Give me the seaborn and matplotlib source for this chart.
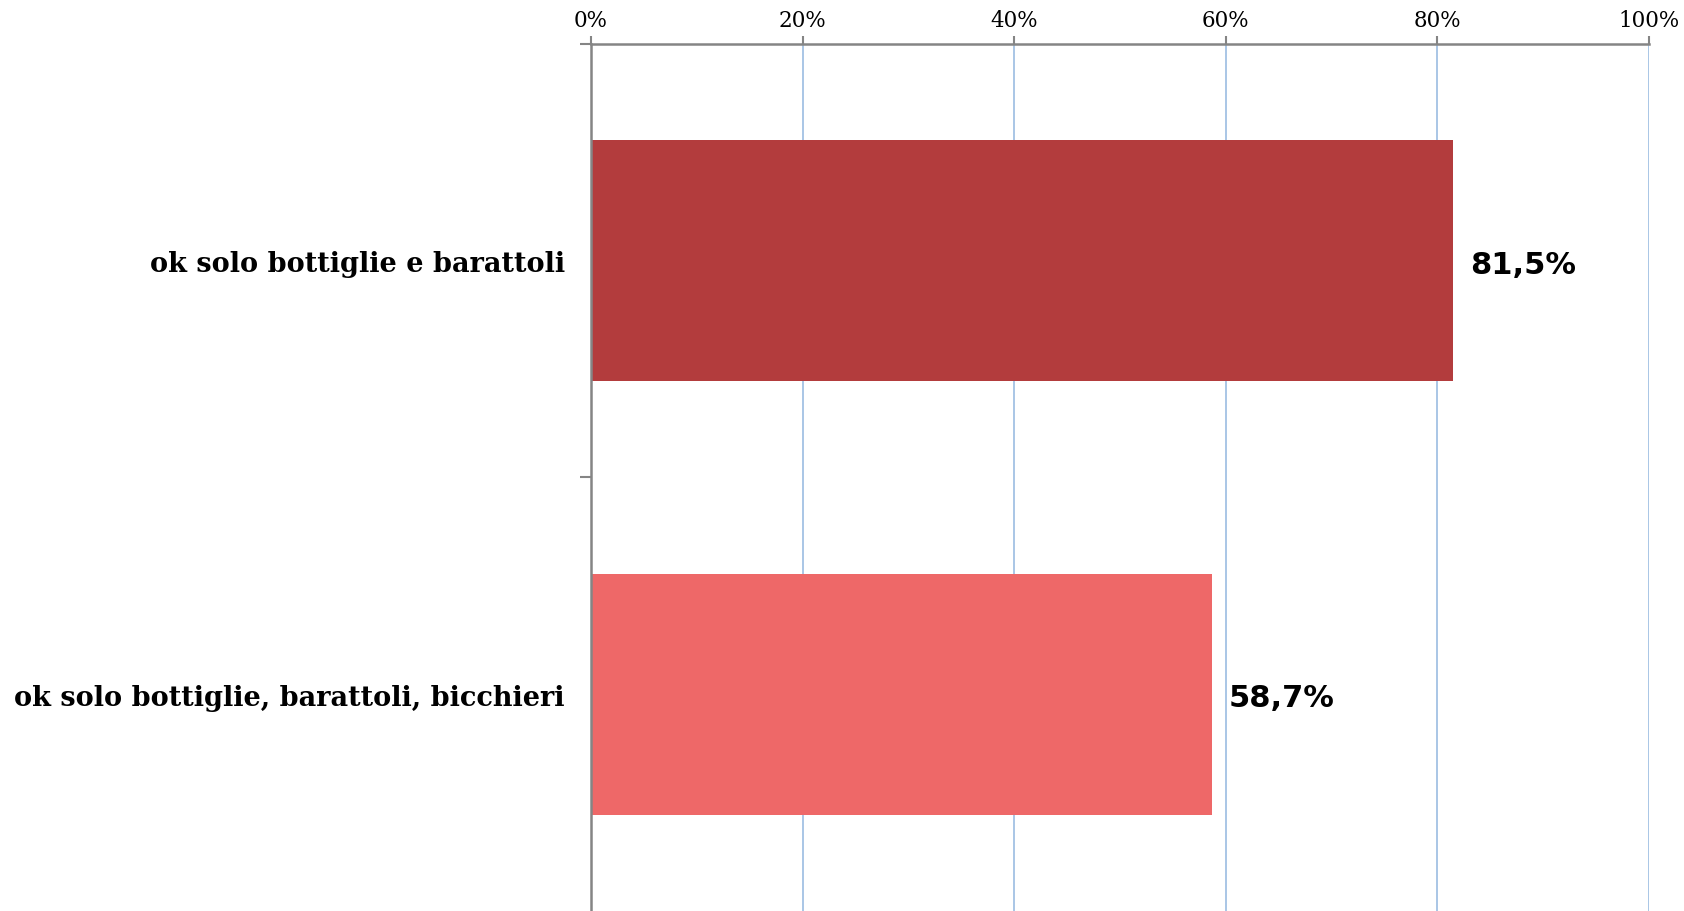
import matplotlib
matplotlib.use("Agg")
import matplotlib.pyplot as plt
import seaborn as sns
import pandas as pd
from matplotlib.ticker import FixedLocator

# Dati del grafico
categorie = ["ok solo bottiglie e barattoli", "ok solo bottiglie, barattoli, bicchieri"]
valori = [81.5, 58.7]
etichette_valori = ["81,5%", "58,7%"]
colori = ["#B33C3D", "#EE6868"]
tick_x = [0, 20, 40, 60, 80, 100]
etichette_x = ["0%", "20%", "40%", "60%", "80%", "100%"]

df = pd.DataFrame({"categoria": categorie, "valore": valori})

sns.set_theme(style="white")

fig = plt.figure(figsize=(16.84, 9.12), dpi=100)
fig.patch.set_facecolor("white")
ax = fig.add_axes([0.3510, 0.0, 0.9792 - 0.3510, 0.9507])

sns.barplot(data=df, y="categoria", x="valore", hue="categoria",
            palette=colori, saturation=1, orient="h", width=0.555,
            legend=False, edgecolor="none", ax=ax)

ax.set_xlim(0, 100)
ax.set_ylim(1.5, -0.5)

# asse x in alto
ax.xaxis.tick_top()
ax.set_xticks(tick_x)
ax.set_xticklabels(etichette_x, fontsize=15.5, family="DejaVu Serif", color="black")
ax.tick_params(axis="x", direction="out", length=6, width=1.5, color="#858585", pad=3)
ax.grid(axis="x", color="#A9C6E6", linewidth=1.4)
ax.set_axisbelow(True)

# asse y: etichette delle categorie
ax.set_yticks([0, 1])
ax.set_yticklabels(categorie, fontsize=19.5, fontweight="bold",
                   family="DejaVu Serif", color="black")
ax.tick_params(axis="y", length=0, pad=19)
ax.yaxis.set_minor_locator(FixedLocator([-0.5, 0.5]))
ax.tick_params(axis="y", which="minor", length=8, width=1.5, color="#858585", left=True)

ax.set_xlabel("")
ax.set_ylabel("")

for lato in ["right", "bottom"]:
    ax.spines[lato].set_visible(False)
for lato in ["top", "left"]:
    ax.spines[lato].set_color("#858585")
    ax.spines[lato].set_linewidth(1.8)

# etichette dei valori
for i, (v, testo) in enumerate(zip(valori, etichette_valori)):
    ax.text(v + 1.6, i + 0.008, testo, va="center", ha="left", fontsize=22,
            fontweight="bold", family="DejaVu Sans", color="black")

fig.savefig("out.png", dpi=100, facecolor="white")
